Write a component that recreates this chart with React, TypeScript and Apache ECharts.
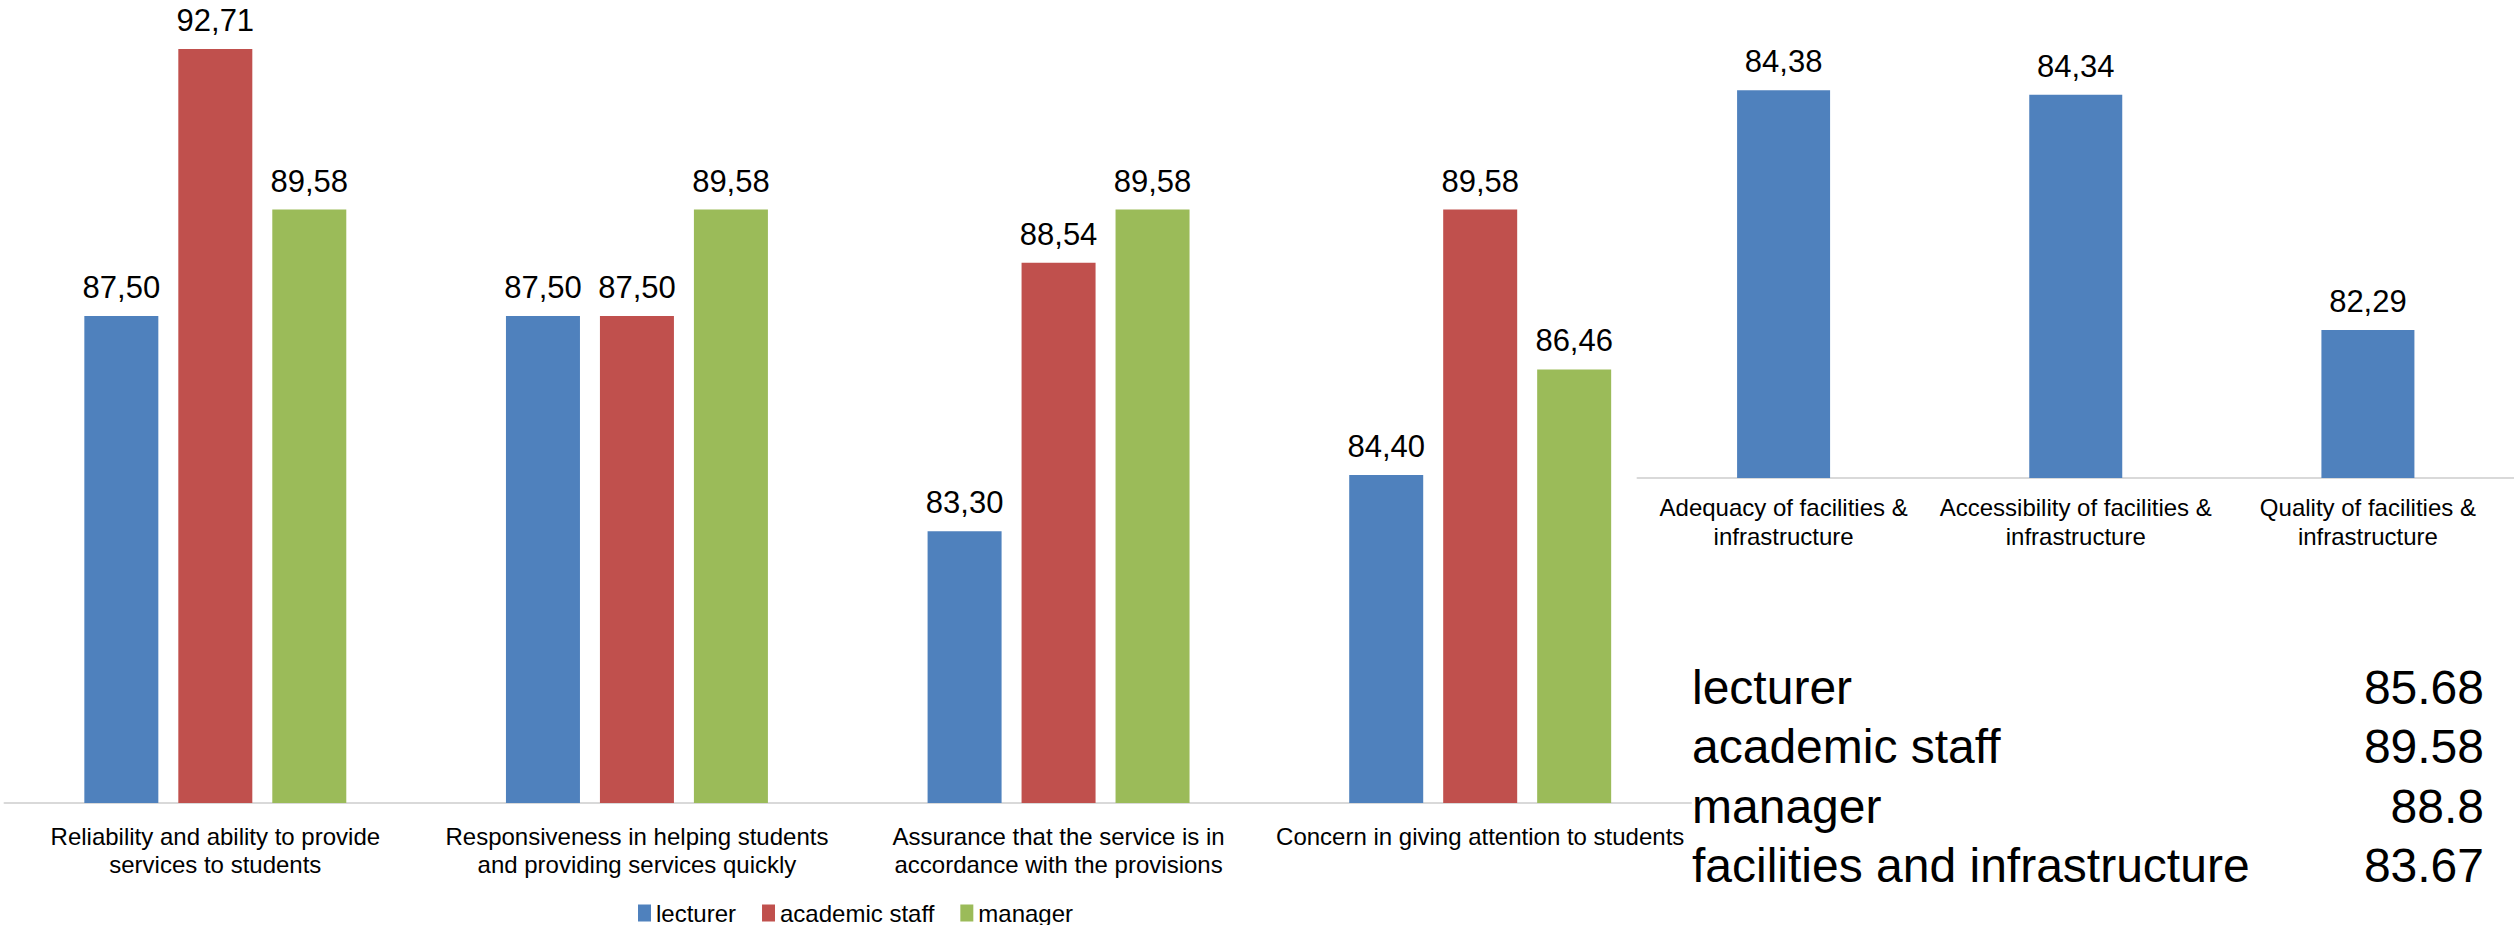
import React, { useEffect, useRef } from "react";
import * as echarts from "echarts";

const serviceCategories = [
  "Reliability and ability to provide\nservices to students",
  "Responsiveness in helping students\nand providing services quickly",
  "Assurance that the service is in\naccordance with the provisions",
  "Concern in giving attention to students",
];
const lecturerValues = [87.5, 87.5, 83.3, 84.4];
const academicStaffValues = [92.71, 87.5, 88.54, 89.58];
const managerValues = [89.58, 89.58, 89.58, 86.46];

const facilityCategories = [
  "Adequacy of facilities &\ninfrastructure",
  "Accessibility of facilities &\ninfrastructure",
  "Quality of facilities &\ninfrastructure",
];
const facilityValues = [84.38, 84.34, 82.29];

const summaryLabels = ["lecturer", "academic staff", "manager", "facilities and infrastructure"];
const summaryValues = ["85.68", "89.58", "88.8", "83.67"];

const FONT = "'Liberation Sans', Arial, sans-serif";
const BLUE = "#4F81BD";
const RED = "#C0504D";
const GREEN = "#9BBB59";

export default function App() {
  const ref = useRef<HTMLDivElement>(null);
  useEffect(() => {
    if (!ref.current) return;
    const chart = echarts.init(ref.current, null, { renderer: "svg" });
    const fmt = (p: any) => Number(p.value).toFixed(2).replace(".", ",");
    const label = {
      show: true,
      position: "top" as const,
      distance: 13,
      color: "#000",
      fontSize: 31,
      fontFamily: FONT,
      formatter: fmt,
    };
    const summaryTexts: any[] = [];
    summaryLabels.forEach((t, i) => {
      const y = 687 + i * 59.5;
      summaryTexts.push({
        type: "text",
        left: 1692,
        top: y - 24,
        style: { text: t, fill: "#000", font: `48px ${FONT}`, textVerticalAlign: "top" },
      });
      summaryTexts.push({
        type: "text",
        right: 30,
        top: y - 24,
        style: { text: summaryValues[i], fill: "#000", font: `48px ${FONT}`, textAlign: "right", textVerticalAlign: "top" },
      });
    });
    chart.setOption({
      animation: false,
      backgroundColor: "#fff",
      textStyle: { fontFamily: FONT },
      legend: {
        data: ["lecturer", "academic staff", "manager"],
        left: 633,
        top: 896,
        itemWidth: 13,
        itemHeight: 17,
        itemGap: 26,
        icon: "rect",
        textStyle: { fontSize: 24, color: "#000", fontFamily: FONT },
      },
      grid: [
        { left: 4.5, top: 8.6, width: 1686.5, height: 794.4 },
        { left: 1637.5, top: 19, width: 891, height: 459 },
      ],
      xAxis: [
        {
          type: "category",
          gridIndex: 0,
          data: serviceCategories,
          axisTick: { show: false },
          axisLine: { lineStyle: { color: "#D9D9D9", width: 2 } },
          axisLabel: { color: "#000", fontSize: 24, lineHeight: 28, margin: 19, interval: 0, fontFamily: FONT },
        },
        {
          type: "category",
          gridIndex: 1,
          data: facilityCategories,
          axisTick: { show: false },
          axisLine: { lineStyle: { color: "#D9D9D9", width: 2 } },
          axisLabel: { color: "#000", fontSize: 24, lineHeight: 29, margin: 15, interval: 0, fontFamily: FONT },
        },
      ],
      yAxis: [
        { type: "value", gridIndex: 0, min: 78, max: 93.5, show: false, splitLine: { show: false } },
        { type: "value", gridIndex: 1, min: 81, max: 85, show: false, splitLine: { show: false } },
      ],
      series: [
        { name: "lecturer", type: "bar", xAxisIndex: 0, yAxisIndex: 0, data: lecturerValues, barWidth: 74, barGap: "27%", itemStyle: { color: BLUE }, label },
        { name: "academic staff", type: "bar", xAxisIndex: 0, yAxisIndex: 0, data: academicStaffValues, barWidth: 74, barGap: "27%", itemStyle: { color: RED }, label },
        { name: "manager", type: "bar", xAxisIndex: 0, yAxisIndex: 0, data: managerValues, barWidth: 74, barGap: "27%", itemStyle: { color: GREEN }, label },
        { name: "facilities and infrastructure", type: "bar", xAxisIndex: 1, yAxisIndex: 1, data: facilityValues, barWidth: 93, itemStyle: { color: BLUE }, label },
      ],
      graphic: summaryTexts,
    });
    return () => chart.dispose();
  }, []);
  return <div ref={ref} style={{ position: "absolute", left: 0, top: 0, width: 2514, height: 925 }} />;
}
